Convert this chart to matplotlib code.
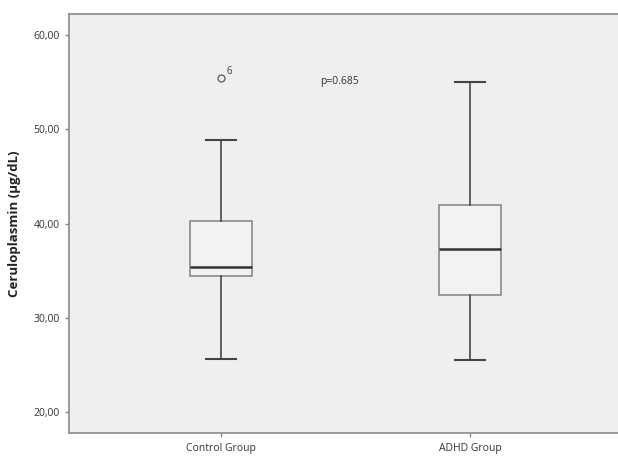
import matplotlib
matplotlib.use("Agg")
import matplotlib.pyplot as plt

# Values
groups = ["Control Group", "ADHD Group"]
whisker_low = [25.6, 25.5]
q1 = [34.4, 32.4]
median = [35.4, 37.3]
q3 = [40.3, 42.0]
whisker_high = [48.9, 55.0]
outliers = [[55.4], []]
outlier_ids = [["6"], []]
p_text = "p=0.685"

plt.rcParams["font.family"] = ["Open Sans", "DejaVu Sans"]

fig = plt.figure(figsize=(6.18, 4.57), dpi=100)
# right edge of the plot runs past the image border, as in the reference
ax = fig.add_axes([69 / 618, 1 - 433 / 457, 560 / 618, 419 / 457])
ax.set_facecolor("#efefef")

stats = []
for i, g in enumerate(groups):
    stats.append({"label": g, "whislo": whisker_low[i], "q1": q1[i], "med": median[i],
                  "q3": q3[i], "whishi": whisker_high[i], "fliers": outliers[i]})

ax.bxp(stats, positions=[1, 2], widths=0.25, patch_artist=True,
       boxprops=dict(facecolor="#f2f2f2", edgecolor="#8a8a8a", linewidth=1.2),
       medianprops=dict(color="#333333", linewidth=1.8),
       whiskerprops=dict(color="#555555", linewidth=1.3),
       capprops=dict(color="#444444", linewidth=1.5),
       flierprops=dict(marker="o", markersize=5, markerfacecolor="none",
                       markeredgecolor="#666666", markeredgewidth=1.0),
       capwidths=0.123)

# outlier case numbers
for i, ids in enumerate(outlier_ids):
    for v, lab in zip(outliers[i], ids):
        ax.annotate(lab, (i + 1, v), xytext=(4, 3), textcoords="offset points",
                    fontsize=7, color="#444444")

ax.text(1.4, 55.0, p_text, fontsize=7.5, color="#333333", va="center", ha="left")

ax.set_xlim(0.39, 2.638)
ax.set_ylim(17.8, 62.2)
ax.set_yticks([20, 30, 40, 50, 60])
ax.set_yticklabels([f"{t:.2f}".replace(".", ",") for t in [20, 30, 40, 50, 60]])
ax.set_xticks([1, 2])
ax.set_xticklabels(groups)
ax.tick_params(axis="both", labelsize=7.5, colors="#888888", labelcolor="#333333",
               length=3, width=1)
ax.tick_params(axis="x", pad=4)

for s in ax.spines.values():
    s.set_color("#8a8a8a")
    s.set_linewidth(1.2)
ax.spines["right"].set_visible(False)

ax.set_ylabel("Ceruloplasmin (µg/dL)", fontsize=9.5, fontweight="bold", color="#222222",
              labelpad=9)

fig.savefig("out.png", dpi=100)
